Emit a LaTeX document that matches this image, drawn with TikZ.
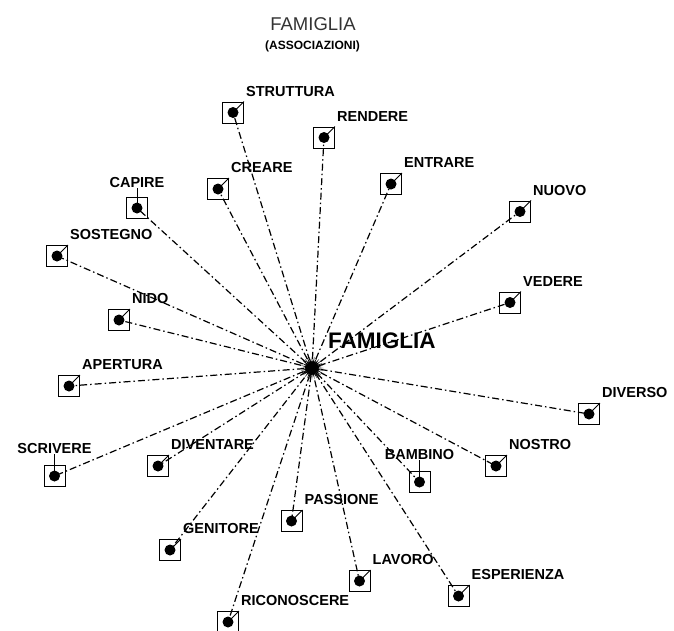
\documentclass[tikz,border=0pt]{standalone}
\usepackage{fontspec}
\setmainfont{Liberation Sans}
\usetikzlibrary{shapes.geometric, positioning}
\tikzstyle{wordbox} = [
    rectangle,
    draw=black,
    line width=1pt,
    minimum size=21pt,
    inner sep=0pt,
    path picture={\fill (path picture bounding box.center) circle (5.5pt);}
]
\tikzstyle{word} = [
    inner sep=0pt,
    font=\fontsize{14.5}{16}\selectfont\bfseries
]
\tikzstyle{hubstar} = [
    star,
    star points=28,
    star point ratio=2,
    minimum size=23pt,
    inner sep=0pt,
    fill=black
]
\tikzstyle{assoc} = [line width=1.2pt, dash pattern=on 7pt off 3pt on 1.5pt off 3pt]
\tikzstyle{stub} = [line width=0.9pt]

\begin{document}
\begin{tikzpicture}[x=1pt, y=-1pt]

\useasboundingbox (0,0) rectangle (674,630);

\node (title) [font=\fontsize{18.5}{20}\selectfont, text=black!80] at (313,23.7) {FAMIGLIA};
\node (subtitle) [font=\fontsize{12}{14}\selectfont\bfseries] at (312.5,46.7) {(ASSOCIAZIONI)};

\node (hub) [hubstar] at (312,368) {};
\node (hubL) [inner sep=0pt, font=\fontsize{22.5}{24}\selectfont\bfseries,
    above right=19.5pt and 16pt of hub.center] {FAMIGLIA};

\node (struttura) [wordbox] at (233,112.5) {};
\node (strutturaL) [word, above right=5pt and 2pt of struttura] {STRUTTURA};

\node (rendere) [wordbox] at (324,137.5) {};
\node (rendereL) [word, above right=5pt and 2pt of rendere] {RENDERE};

\node (creare) [wordbox] at (218,189) {};
\node (creareL) [word, above right=5pt and 2pt of creare] {CREARE};

\node (entrare) [wordbox] at (391,184) {};
\node (entrareL) [word, above right=5pt and 2pt of entrare] {ENTRARE};

\node (capire) [wordbox] at (137,208) {};
\node (capireL) [word, above=9.5pt of capire] {CAPIRE};

\node (nuovo) [wordbox] at (520,211.5) {};
\node (nuovoL) [word, above right=5pt and 2pt of nuovo] {NUOVO};

\node (sostegno) [wordbox] at (57,256) {};
\node (sostegnoL) [word, above right=5pt and 2pt of sostegno] {SOSTEGNO};

\node (vedere) [wordbox] at (510,302.5) {};
\node (vedereL) [word, above right=5pt and 2pt of vedere] {VEDERE};

\node (nido) [wordbox] at (119,320) {};
\node (nidoL) [word, above right=5pt and 2pt of nido] {NIDO};

\node (apertura) [wordbox] at (69,386) {};
\node (aperturaL) [word, above right=5pt and 2pt of apertura] {APERTURA};

\node (diverso) [wordbox] at (589,414) {};
\node (diversoL) [word, above right=5pt and 2pt of diverso] {DIVERSO};

\node (scrivere) [wordbox] at (54.5,476) {};
\node (scrivereL) [word, above=11pt of scrivere] {SCRIVERE};

\node (diventare) [wordbox] at (158,466) {};
\node (diventareL) [word, above right=5pt and 2pt of diventare] {DIVENTARE};

\node (nostro) [wordbox] at (496,466) {};
\node (nostroL) [word, above right=5pt and 2pt of nostro] {NOSTRO};

\node (bambino) [wordbox] at (419.5,482) {};
\node (bambinoL) [word, above=11pt of bambino] {BAMBINO};

\node (passione) [wordbox] at (291.5,521) {};
\node (passioneL) [word, above right=5pt and 2pt of passione] {PASSIONE};

\node (genitore) [wordbox] at (170,550) {};
\node (genitoreL) [word, above right=5pt and 2pt of genitore] {GENITORE};

\node (lavoro) [wordbox] at (359.5,581) {};
\node (lavoroL) [word, above right=5pt and 2pt of lavoro] {LAVORO};

\node (esperienza) [wordbox] at (458.5,596) {};
\node (esperienzaL) [word, above right=5pt and 2pt of esperienza] {ESPERIENZA};

\node (riconoscere) [wordbox] at (228,622) {};
\node (riconoscereL) [word, above right=5pt and 2pt of riconoscere] {RICONOSCERE};

% associations
\draw [assoc] (hub) -- (struttura.center);
\draw [assoc] (hub) -- (rendere.center);
\draw [assoc] (hub) -- (creare.center);
\draw [assoc] (hub) -- (entrare.center);
\draw [assoc] (hub) -- (capire.center);
\draw [assoc] (hub) -- (nuovo.center);
\draw [assoc] (hub) -- (sostegno.center);
\draw [assoc] (hub) -- (vedere.center);
\draw [assoc] (hub) -- (nido.center);
\draw [assoc] (hub) -- (apertura.center);
\draw [assoc] (hub) -- (diverso.center);
\draw [assoc] (hub) -- (scrivere.center);
\draw [assoc] (hub) -- (diventare.center);
\draw [assoc] (hub) -- (nostro.center);
\draw [assoc] (hub) -- (bambino.center);
\draw [assoc] (hub) -- (passione.center);
\draw [assoc] (hub) -- (genitore.center);
\draw [assoc] (hub) -- (lavoro.center);
\draw [assoc] (hub) -- (esperienza.center);
\draw [assoc] (hub) -- (riconoscere.center);

% label stubs
\draw [stub] (struttura.center) -- (struttura.north east);
\draw [stub] (rendere.center) -- (rendere.north east);
\draw [stub] (creare.center) -- (creare.north east);
\draw [stub] (entrare.center) -- (entrare.north east);
\draw [stub] (capire.center) -- (capireL);
\draw [stub] (nuovo.center) -- (nuovo.north east);
\draw [stub] (sostegno.center) -- (sostegno.north east);
\draw [stub] (vedere.center) -- (vedere.north east);
\draw [stub] (nido.center) -- (nido.north east);
\draw [stub] (apertura.center) -- (apertura.north east);
\draw [stub] (diverso.center) -- (diverso.north east);
\draw [stub] (scrivere.center) -- (scrivereL);
\draw [stub] (diventare.center) -- (diventare.north east);
\draw [stub] (nostro.center) -- (nostro.north east);
\draw [stub] (bambino.center) -- (bambinoL);
\draw [stub] (passione.center) -- (passione.north east);
\draw [stub] (genitore.center) -- (genitore.north east);
\draw [stub] (lavoro.center) -- (lavoro.north east);
\draw [stub] (esperienza.center) -- (esperienza.north east);
\draw [stub] (riconoscere.center) -- (riconoscere.north east);

\end{tikzpicture}
\end{document}
